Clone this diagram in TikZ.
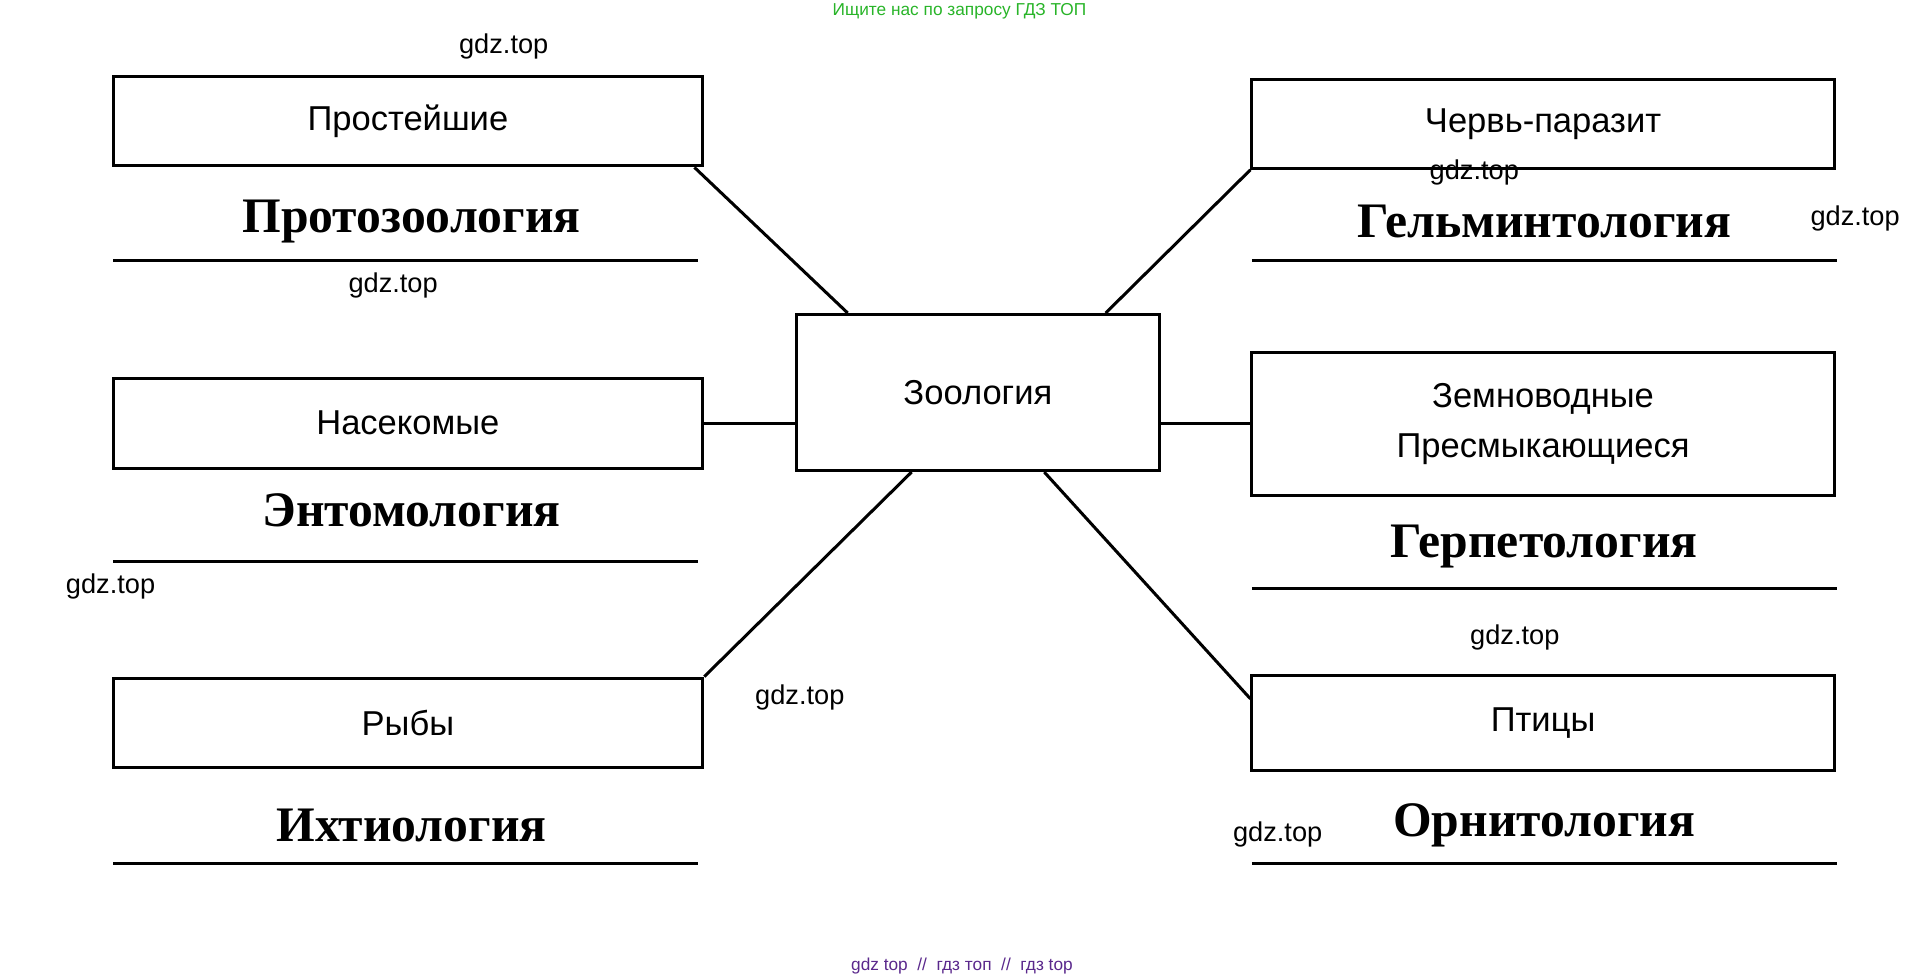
\documentclass[tikz,border=0pt]{standalone}
\usepackage{fontspec}
\setmainfont{Liberation Serif}
\setsansfont{Liberation Sans}
\usetikzlibrary{calc}

\tikzset{
  boxnode/.style={draw,line width=0.7pt,minimum width=48mm,minimum height=7.3mm,inner sep=0,font=\sffamily\fontsize{8}{9.5}\selectfont,align=center},
  titlenode/.style={font=\bfseries\fontsize{11.5}{13}\selectfont},
  wmark/.style={font=\sffamily\fontsize{6.3}{7}\selectfont},
  uline/.style={line width=0.7pt},
  link/.style={line width=0.7pt}
}

\begin{document}
\begin{tikzpicture}[x=0.1mm,y=-0.1mm]
\useasboundingbox (0,0) rectangle (1562,795);

% boxes
\node[boxnode] (prost) at (332,98.5) {Простейшие};
\node[boxnode] (insect) at (332,344.5) {Насекомые};
\node[boxnode] (fish) at (332,588.5) {Рыбы};
\node[boxnode,minimum width=47.4mm,minimum height=7.2mm] (worm) at (1256,101) {Червь-паразит};
\node[boxnode,minimum width=47.4mm,minimum height=11.6mm,font=\sffamily\fontsize{8}{11.5}\selectfont] (amph) at (1256,345) {Земноводные\\Пресмыкающиеся};
\node[boxnode,minimum width=47.4mm,minimum height=7.7mm] (bird) at (1256,588.5) {Птицы};
\node[boxnode,minimum width=29.6mm,minimum height=12.7mm] (zoo) at (796,319.5) {Зоология};

% titles and lines
\foreach \name/\txt/\x/\y/\l/\ly in {
  t1/Протозоология/335/180/92/212,
  t2/Энтомология/335/415/92/457,
  t3/Ихтиология/335/672/92/703,
  t4/Гельминтология/1257/180/1019/212,
  t5/Герпетология/1257/445/1019/479,
  t6/Орнитология/1257/672/1019/703}{
  \node[titlenode] (\name) at (\x,\y) {\txt};
  \draw[uline] (\l,\ly) -- ++(476,0);
}

% connectors
\coordinate (zA) at ($(zoo.north)+(-106,0)$);
\coordinate (zB) at ($(zoo.north)+(104,0)$);
\coordinate (zC) at ($(zoo.south)+(-54,0)$);
\coordinate (zD) at ($(zoo.south)+(54,0)$);
\coordinate (pA) at ($(prost.south east)+(-8,0)$);
\coordinate (wB) at ($(worm.south west)+(0,0)$);
\coordinate (bD) at ($(bird.north west)+(0,20)$);
\draw[link] (pA) -- (zA);
\draw[link] (wB) -- (zB);
\draw[link] (fish.north east) -- (zC);
\draw[link] (bD) -- (zD);
\draw[link] (insect.east) -- (insect.east -| zoo.west);
\draw[link] (amph.west -| zoo.east) -- (amph.west);

% watermarks
\node[font=\sffamily\fontsize{4}{5}\selectfont,text={rgb,255:red,40;green,180;blue,40}] (top) at (781,9) {Ищите нас по запросу ГДЗ ТОП};
\node[font=\sffamily\fontsize{4}{5}\selectfont,text={rgb,255:red,90;green,40;blue,140}] (bottom) at (783,786) {gdz top \ // \ гдз топ \ // \ гдз top};
\foreach \x/\y in {410/38,1200/140,1510/178,320/232,90/477,1233/519,651/568,1040/679}
  \node[wmark] at (\x,\y) {gdz.top};
\end{tikzpicture}
\end{document}
